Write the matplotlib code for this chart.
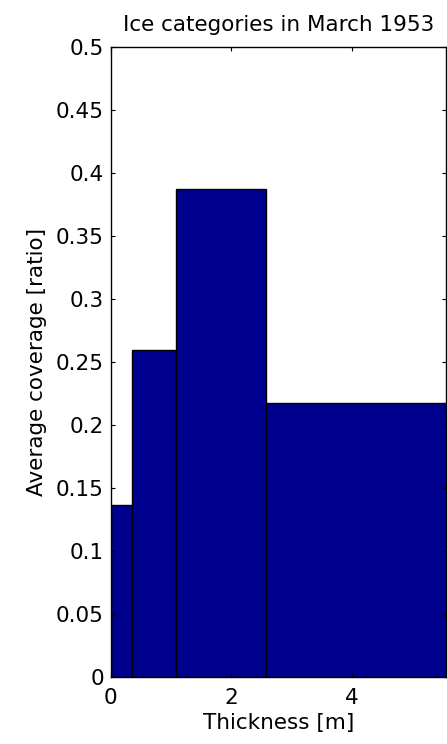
import matplotlib
matplotlib.use("Agg")
import matplotlib.pyplot as plt

plt.rcParams.update({
    "font.family": ["DejaVu Sans"],
    "font.size": 15.5,
})

# thickness category edges [m] and average coverage per category
edges = [0.0, 0.355, 1.09, 2.58, 5.57]
coverage = [0.1365, 0.2592, 0.3875, 0.2172]

xticks = [0, 2, 4]
yticks = [0, 0.05, 0.1, 0.15, 0.2, 0.25, 0.3, 0.35, 0.4, 0.45, 0.5]
ytick_labels = ["0", "0.05", "0.1", "0.15", "0.2", "0.25", "0.3", "0.35", "0.4", "0.45", "0.5"]

fig = plt.figure(figsize=(4.47, 7.44), dpi=100)
ax = fig.add_axes([0.2477, 0.0905, 0.7510, 0.8460])

lefts = edges[:-1]
widths = [edges[i + 1] - edges[i] for i in range(len(coverage))]
ax.bar(lefts, coverage, width=widths, align="edge",
       color="#00008f", edgecolor="black", linewidth=1.0)

ax.set_xlim(0, 5.57)
ax.set_ylim(0, 0.5)
ax.set_xticks(xticks)
ax.set_xticklabels([str(t) for t in xticks])
ax.set_yticks(yticks)
ax.set_yticklabels(ytick_labels)

ax.tick_params(direction="in", length=3, width=0.8, labelsize=15.5,
               top=True, right=True)
ax.tick_params(axis="x", pad=8)
ax.tick_params(axis="y", pad=5)
for sp in ax.spines.values():
    sp.set_linewidth(1.0)
    sp.set_color("black")

ax.set_xlabel("Thickness [m]", fontsize=15.5, labelpad=4)
ax.set_ylabel("Average coverage [ratio]", fontsize=15.5, labelpad=6)
ax.set_title("Ice categories in March 1953", fontsize=15.5, pad=12)

fig.savefig("out.png", dpi=100)
